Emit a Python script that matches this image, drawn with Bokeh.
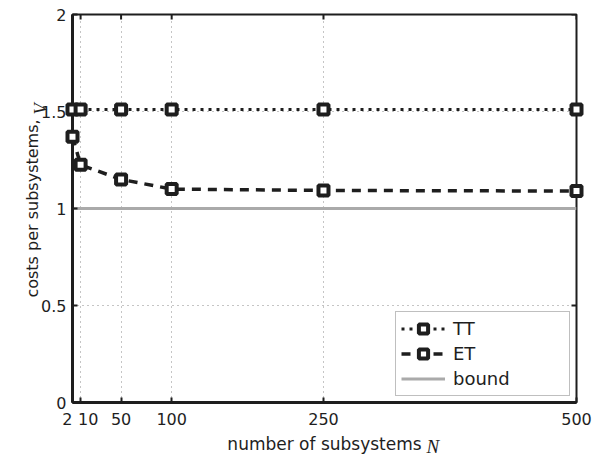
from math import pi
from bokeh.plotting import figure
from bokeh.models import FixedTicker, Range1d, Label, Legend, LegendItem
from bokeh.embed import file_html
from bokeh.resources import INLINE

# ---- data ----
N = [2, 10, 50, 100, 250, 500]
V_TT = [1.51, 1.51, 1.51, 1.51, 1.51, 1.51]
V_ET = [1.37, 1.225, 1.15, 1.10, 1.093, 1.09]
bound_N = [2, 500]
bound_V = [1.0, 1.0]

x_ticks = [2, 10, 50, 100, 250, 500]
x_tick_labels = ["2", "10", "50", "100", "250", "500"]
y_ticks = [0, 0.5, 1, 1.5, 2]
y_tick_labels = ["0", "0.5", "1", "1.5", "2"]

x_title = "number of subsystems"
x_title_sym = "N"
y_title = "costs per subsystems,"
y_title_sym = "V"

DARK = "#1e1e1e"
FONT = "DejaVu Sans"
NB = "\u00a0"

p = figure(width=592, height=456, x_range=Range1d(2, 500), y_range=Range1d(0, 2),
           output_backend="svg", toolbar_location=None,
           min_border_left=71, min_border_right=16, min_border_top=14, min_border_bottom=50,
           background_fill_color="white", border_fill_color="white")
p.outline_line_color = DARK
p.outline_line_width = 2

# axes
xa = p.xaxis[0]
ya = p.yaxis[0]
xa.ticker = FixedTicker(ticks=x_ticks)
ya.ticker = FixedTicker(ticks=y_ticks)
ovx = {t: l for t, l in zip(x_ticks, x_tick_labels)}
# the first two labels sit close together; nudge them apart
ovx[x_ticks[0]] = x_tick_labels[0] + NB * 2
ovx[x_ticks[1]] = NB * 3 + x_tick_labels[1]
xa.major_label_overrides = ovx
ya.major_label_overrides = {t: l for t, l in zip(y_ticks, y_tick_labels)}

for ax in (xa, ya):
    ax.axis_line_color = DARK
    ax.axis_line_width = 3
    ax.major_tick_line_color = DARK
    ax.major_tick_line_width = 2
    ax.major_tick_in = 5
    ax.major_tick_out = 0
    ax.minor_tick_line_color = None
    ax.major_label_text_font = FONT
    ax.major_label_text_font_size = "16px"
    ax.major_label_text_color = DARK
    ax.axis_label_text_font = FONT
    ax.axis_label_text_font_style = "normal"
    ax.axis_label_text_color = DARK
xa.major_label_standoff = 7
ya.major_label_standoff = 6
xa.axis_label = x_title
xa.axis_label_text_font_size = "17px"
xa.axis_label_standoff = 2
ya.axis_label = y_title
ya.axis_label_text_font_size = "16px"
ya.axis_label_standoff = -4

# grid
for g in (p.xgrid[0], p.ygrid[0]):
    g.grid_line_color = "#8a8a8a"
    g.grid_line_dash = "1 4"
    g.grid_line_width = 1

# inward ticks on the top and right edges
p.scatter(x_ticks, [p.y_range.end] * len(x_ticks), marker="dash", angle=pi / 2,
          size=10, line_color=DARK, line_width=2)
p.scatter([p.x_range.end] * len(y_ticks), y_ticks, marker="dash",
          size=10, line_color=DARK, line_width=2)

# lines
r_bound = p.line(bound_N, bound_V, line_color="#aaaaaa", line_width=3)
r_et = p.line(N, V_ET, line_color=DARK, line_width=3.5, line_dash="9 7")
r_tt = p.line(N, V_TT, line_color=DARK, line_width=3, line_dash="3 5")
s_et = p.scatter(N, V_ET, marker="square", size=10, fill_color="white",
                 line_color=DARK, line_width=4, level="overlay")
s_tt = p.scatter(N, V_TT, marker="square", size=10, fill_color="white",
                 line_color=DARK, line_width=4, level="overlay")

legend = Legend(items=[LegendItem(label="TT", renderers=[r_tt, s_tt]),
                       LegendItem(label="ET", renderers=[r_et, s_et]),
                       LegendItem(label="bound", renderers=[r_bound])],
                location="bottom_right", margin=6, padding=5, spacing=2,
                glyph_width=44, glyph_height=23, label_height=23, label_width=111,
                label_standoff=8, label_text_font=FONT, label_text_font_size="18px",
                label_text_color=DARK, border_line_color="#808080", border_line_width=1.5,
                background_fill_color="white", background_fill_alpha=1.0)
p.add_layout(legend)

# italic symbols after the axis titles
xc = (p.x_range.start + p.x_range.end) / 2
yc = (p.y_range.start + p.y_range.end) / 2
lab_n = Label(x=xc, y=p.y_range.start, text=x_title_sym, x_offset=102, y_offset=-44,
              text_align="left", text_baseline="alphabetic", text_font="Liberation Serif",
              text_font_style="italic", text_font_size="19px", text_color=DARK)
lab_v = Label(x=p.x_range.start, y=yc, text=y_title_sym, x_offset=-32, y_offset=94,
              angle=pi / 2, text_align="left", text_baseline="alphabetic",
              text_font="Liberation Serif", text_font_style="italic",
              text_font_size="18px", text_color=DARK)
p.add_layout(lab_n, "right")
p.add_layout(lab_v, "left")

open("out.html", "w").write(file_html(p, INLINE))
